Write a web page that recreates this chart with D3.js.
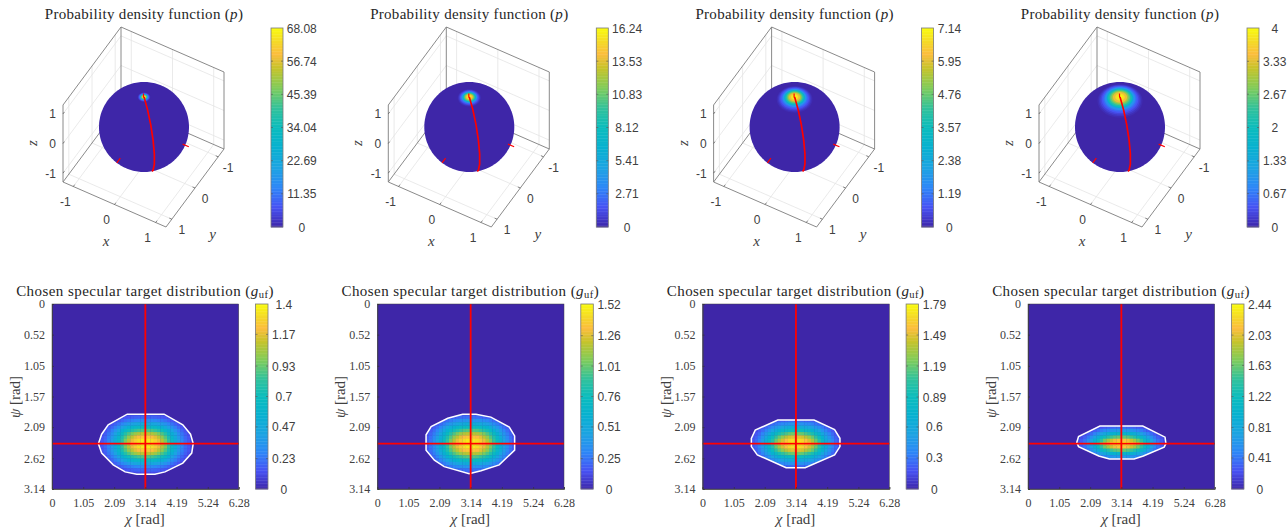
<!DOCTYPE html>
<html>
<head>
<meta charset="utf-8">
<script src="https://cdn.jsdelivr.net/npm/d3@7"></script>
<style>
  body { margin: 0; background: #fff; }
  svg { display: block; }
  text { fill: #404040; }
  .serif { font-family: "Liberation Serif", serif; font-size: 12px; }
  .sans { font-family: "Liberation Sans", sans-serif; font-size: 12px; }
  .title { font-family: "Liberation Serif", serif; font-size: 15px; fill: #262626; }
  .label { font-family: "Liberation Serif", serif; font-size: 15px; }
</style>
</head>
<body>
<svg width="1288" height="530"></svg>
<script>
// --- Data ---
const pTicks = [
  [0, 11.35, 22.69, 34.04, 45.39, 56.74, 68.08],
  [0, 2.71, 5.41, 8.12, 10.83, 13.53, 16.24],
  [0, 1.19, 2.38, 3.57, 4.76, 5.95, 7.14],
  [0, 0.67, 1.33, 2, 2.67, 3.33, 4]
];
const gTicks = [
  [0, 0.23, 0.47, 0.7, 0.93, 1.17, 1.4],
  [0, 0.25, 0.51, 0.76, 1.01, 1.26, 1.52],
  [0, 0.3, 0.6, 0.89, 1.19, 1.49, 1.79],
  [0, 0.41, 0.81, 1.22, 1.63, 2.03, 2.44]
];
const chiTicks = [0, 1.05, 2.09, 3.14, 4.19, 5.24, 6.28];
const psiTicks = [0, 0.52, 1.05, 1.57, 2.09, 2.62, 3.14];
const boxTicks = [-1, 0, 1];

// density on the sphere: rings around the pole, outer to inner (angle in degrees)
const ringAngles = [
  [8.1, 7.6, 7, 6.5, 5.9, 5.4, 4.6, 4.1, 3.5, 3, 2.4, 1.6, 0.8],
  [15, 14, 13, 12, 11, 10, 8.5, 7.5, 6.5, 5.5, 4.5, 3, 1.5],
  [23.4, 21.8, 20.3, 18.7, 17.2, 15.6, 13.3, 11.7, 10.1, 8.6, 7, 4.7, 2.3],
  [30, 28, 26, 24, 22, 20, 17, 15, 13, 11, 9, 6, 3]
];
const ringValues = [
  [1, 2.6, 4.8, 7.1, 10.2, 16, 29, 37, 44, 51, 58, 65, 68],
  [0.24, 0.6, 1.1, 1.7, 2.4, 3.9, 6.9, 8.9, 10.6, 12.2, 13.8, 15.4, 16.24],
  [0.11, 0.27, 0.5, 0.75, 1.07, 1.7, 3, 3.9, 4.6, 5.35, 6.05, 6.8, 7.14],
  [0.06, 0.15, 0.28, 0.42, 0.6, 0.95, 1.7, 2.2, 2.6, 3, 3.4, 3.8, 4]
];

// red meridian and the short axis tips poking out of the sphere
const meridianLon = 13.5;
const meridianLat = [90, 70, 50, 30, 10, -10, -30, -45];
const axisTips = [
  [[0.95, 0, 0], [1.1, 0, 0]],
  [[0, 1, 0], [0, 1.15, 0]],
  [[0, 0, 1], [0, 0, 1.13]]
];

// target distribution: share of the peak per grid cell going out from the centre
const chiProfile = [
  [1, 0.99, 0.97, 0.93, 0.87, 0.8, 0.71, 0.6, 0.48, 0.38, 0.29, 0.21, 0.15, 0.11, 0.08],
  [1, 0.99, 0.97, 0.93, 0.87, 0.8, 0.71, 0.61, 0.5, 0.4, 0.31, 0.23, 0.17, 0.12, 0.09],
  [1, 0.99, 0.97, 0.92, 0.86, 0.79, 0.7, 0.59, 0.48, 0.38, 0.29, 0.21, 0.15, 0.11, 0.08],
  [1, 0.99, 0.96, 0.91, 0.84, 0.76, 0.66, 0.55, 0.44, 0.34, 0.25, 0.18, 0.13, 0.09, 0.07]
];
const psiProfile = [
  [1, 0.97, 0.9, 0.79, 0.64, 0.48, 0.34, 0.22, 0.14, 0.09],
  [1, 0.97, 0.9, 0.79, 0.65, 0.5, 0.36, 0.25, 0.16, 0.1],
  [1, 0.95, 0.84, 0.68, 0.51, 0.36, 0.24, 0.15, 0.1],
  [1, 0.89, 0.67, 0.44, 0.27, 0.15, 0.09]
];
// white contour, [chi, psi]
const contours = [
  [[2.53,1.87],[3.77,1.87],[4.40,2.05],[4.66,2.21],[4.75,2.37],[4.70,2.53],[4.40,2.70],[3.80,2.85],[3.46,2.89],[2.85,2.89],[2.46,2.85],[2.06,2.73],[1.67,2.53],[1.56,2.37],[1.67,2.21],[1.89,2.05]],
  [[2.87,1.87],[3.32,1.87],[3.82,1.92],[4.44,2.09],[4.62,2.24],[4.62,2.48],[4.10,2.73],[3.49,2.83],[3.09,2.88],[2.25,2.76],[1.92,2.65],[1.64,2.48],[1.64,2.22],[1.81,2.08],[2.37,1.94]],
  [[2.53,1.97],[3.75,1.97],[4.44,2.13],[4.62,2.28],[4.62,2.42],[4.44,2.56],[3.45,2.78],[2.81,2.78],[1.84,2.56],[1.64,2.42],[1.64,2.28],[1.77,2.14]],
  [[2.42,2.07],[3.86,2.07],[4.61,2.26],[4.64,2.37],[4.58,2.43],[3.88,2.58],[3.57,2.63],[2.74,2.63],[2.38,2.58],[1.70,2.42],[1.64,2.35],[1.70,2.25]]
];
const chiCentre = 3.14;
const psiCentre = 2.37;

// parula
const parulaStops = [0, 0.1, 0.2, 0.3, 0.4, 0.5, 0.6, 0.7, 0.8, 0.87, 0.93, 1];
const parulaColors = ["#3e26a8", "#4752f4", "#2d87f7", "#1ca4e2", "#07b1d0", "#0bbcbd", "#33c29a", "#81cc59", "#c7c32a", "#fcbd3d", "#f5d827", "#f9fb0e"];

// --- Layout constants ---
const COLS = 56;
const panelX = [0, 325.3, 650.6, 976];
const BOX = { left: 63, back: 122, right: 224, front: 166, top: 28 };
const HEAT = { left: 52, right: 238.7, top: 304, bottom: 489 };

const svg = d3.select("svg");

function parula(maxValue) {
  return d3.scaleLinear()
    .domain(parulaStops.map(s => s * maxValue))
    .range(parulaColors)
    .clamp(true);
}

// --- Colour bar ---
function colorbar(g, x0, x1, y0, y1, ticks) {
  const maxValue = ticks[ticks.length - 1];
  const color = parula(maxValue);
  const y = d3.scaleLinear().domain([0, maxValue]).range([y1, y0]);
  const levels = d3.range(128);
  const h = (y1 - y0) / levels.length;
  g.selectAll(null).data(levels).join("rect")
    .attr("x", x0).attr("width", x1 - x0)
    .attr("y", d => y((d + 1) / levels.length * maxValue))
    .attr("height", h + 0.4)
    .attr("fill", d => color((d + 0.5) / levels.length * maxValue));
  g.append("rect")
    .attr("x", x0).attr("y", y0).attr("width", x1 - x0).attr("height", y1 - y0)
    .attr("fill", "none").attr("stroke", "#7a7a7a").attr("stroke-width", 0.8);
  g.selectAll(null).data(ticks.slice(1, -1)).join("path")
    .attr("d", d => `M${x0},${y(d)}h2M${x1},${y(d)}h-2`)
    .attr("stroke", "#555").attr("stroke-width", 0.6);
  // labels are centred in a block as wide as the longest one
  const longest = d3.max(ticks, t => String(t).length);
  g.selectAll(null).data(ticks).join("text")
    .attr("class", "sans")
    .attr("x", x1 + 4 + longest * 5.9 / 2)
    .attr("y", d => y(d) + 4.5)
    .attr("text-anchor", "middle")
    .text(d => d);
}

// --- Top row: sphere in a 3D box ---
function drawSphere(i) {
  const g = svg.append("g").attr("transform", `translate(${panelX[i]},0)`);

  const L = 1.25, LZ = 1.3;
  const xx = d3.scaleLinear().domain([-L, L]).range([0, BOX.front - BOX.left]);
  const xy = d3.scaleLinear().domain([-L, L]).range([0, 45]);
  const yx = d3.scaleLinear().domain([-L, L]).range([BOX.right - BOX.front, 0]);
  const yy = d3.scaleLinear().domain([-L, L]).range([0, 78]);
  const zy = d3.scaleLinear().domain([-LZ, LZ]).range([0, -77]);
  const project = ([x, y, z]) => [
    BOX.left + xx(x) + yx(y),
    104 + xy(x) + yy(y) + zy(z)
  ];
  const line3 = d3.line().x(d => project(d)[0]).y(d => project(d)[1]);

  // grid on floor and back walls
  const grid = [];
  boxTicks.forEach(t => {
    grid.push([[t, -L, -LZ], [t, L, -LZ]], [[-L, t, -LZ], [L, t, -LZ]]);
    grid.push([[-L, t, -LZ], [-L, t, LZ]], [[t, -L, -LZ], [t, -L, LZ]]);
    grid.push([[-L, -L, t], [-L, L, t]], [[-L, -L, t], [L, -L, t]]);
  });
  g.selectAll(null).data(grid).join("path")
    .attr("d", line3).attr("fill", "none")
    .attr("stroke", "#e4e4e4").attr("stroke-width", 0.8);

  // box edges
  const edges = [
    [[-L, L, -LZ], [L, L, -LZ]], [[L, L, -LZ], [L, -L, -LZ]],
    [[-L, L, -LZ], [-L, -L, -LZ]], [[-L, -L, -LZ], [L, -L, -LZ]],
    [[-L, L, -LZ], [-L, L, LZ]], [[-L, L, LZ], [-L, -L, LZ]],
    [[-L, -L, LZ], [L, -L, LZ]], [[L, -L, LZ], [L, -L, -LZ]],
    [[-L, -L, -LZ], [-L, -L, LZ]]
  ];
  g.selectAll(null).data(edges).join("path")
    .attr("d", line3).attr("fill", "none")
    .attr("stroke", "#7d7d7d").attr("stroke-width", 0.9);

  // ticks
  const ticks = [];
  boxTicks.forEach(t => {
    ticks.push([[t, L, -LZ], [t, L - 0.06, -LZ]]);
    ticks.push([[L, t, -LZ], [L - 0.06, t, -LZ]]);
    ticks.push([[-L, L, t], [-L, L - 0.06, t]]);
  });
  g.selectAll(null).data(ticks).join("path")
    .attr("d", line3).attr("stroke", "#555").attr("stroke-width", 0.7);

  const tickLabel = (t, p, dx, dy, anchor) => g.append("text")
    .attr("class", "sans")
    .attr("x", project(p)[0] + dx).attr("y", project(p)[1] + dy)
    .attr("text-anchor", anchor).text(t);
  boxTicks.forEach(t => {
    tickLabel(t, [t, L, -LZ], -8, 19, "middle");
    tickLabel(t, [L, t, -LZ], 10, 15, "middle");
    tickLabel(t, [-L, L, t], -7, 4.5, "end");
  });

  g.append("text").attr("class", "label").attr("x", 106).attr("y", 246)
    .attr("text-anchor", "middle").attr("font-style", "italic").text("x");
  g.append("text").attr("class", "label").attr("x", 212.5).attr("y", 239)
    .attr("text-anchor", "middle").attr("font-style", "italic").text("y");
  g.append("text").attr("class", "label").attr("font-style", "italic")
    .attr("text-anchor", "middle")
    .attr("transform", "translate(37,143) rotate(-90)").text("z");

  // sphere
  const maxValue = pTicks[i][pTicks[i].length - 1];
  const color = parula(maxValue);
  const projection = d3.geoOrthographic()
    .rotate([0, -48, 0]).scale(45).translate([144, 127]).clipAngle(90);
  const path = d3.geoPath(projection);
  g.append("path").datum({ type: "Sphere" }).attr("d", path).attr("fill", color(0));
  const circle = d3.geoCircle().center([0, 90]).precision(3);
  g.selectAll(null).data(ringAngles[i]).join("path")
    .attr("d", d => path(circle.radius(d)()))
    .attr("fill", (d, k) => color(ringValues[i][k]));

  g.append("path")
    .datum({ type: "LineString", coordinates: meridianLat.map(lat => [meridianLon, lat]) })
    .attr("d", path).attr("fill", "none").attr("stroke", "#f00").attr("stroke-width", 1.7);
  g.selectAll(null).data(axisTips).join("path")
    .attr("d", line3).attr("fill", "none").attr("stroke", "#f00").attr("stroke-width", 1.2);

  const title = g.append("text").attr("class", "title").attr("x", 144).attr("y", 19)
    .attr("text-anchor", "middle").attr("letter-spacing", 0.3);
  title.append("tspan").text("Probability density function (");
  title.append("tspan").attr("font-style", "italic").text("p");
  title.append("tspan").text(")");

  colorbar(g, 271, 283, 28, 227, pTicks[i]);
}

// --- Bottom row: target distribution heat map ---
function drawHeat(i) {
  const g = svg.append("g").attr("transform", `translate(${panelX[i]},0)`);
  const x = d3.scaleLinear().domain([0, 6.28]).range([HEAT.left, HEAT.right]);
  const y = d3.scaleLinear().domain([0, 3.14]).range([HEAT.top, HEAT.bottom]);
  const maxValue = gTicks[i][gTicks[i].length - 1];
  const color = parula(maxValue);

  g.append("rect")
    .attr("x", HEAT.left).attr("y", HEAT.top)
    .attr("width", HEAT.right - HEAT.left).attr("height", HEAT.bottom - HEAT.top)
    .attr("fill", color(0));

  const clipId = `contour-${i}`;
  const contourLine = d3.line().x(d => x(d[0])).y(d => y(d[1])).curve(d3.curveLinearClosed);
  g.append("clipPath").attr("id", clipId).append("path").attr("d", contourLine(contours[i]));

  // one cell per grid step, only inside the contour
  const chiStep = 6.28 / COLS, psiStep = 3.14 / COLS;
  const cells = [];
  const chiP = chiProfile[i], psiP = psiProfile[i];
  for (let a = 1 - chiP.length; a < chiP.length; a++) {
    for (let b = 1 - psiP.length; b < psiP.length; b++) {
      cells.push({
        chi: chiCentre + a * chiStep,
        psi: psiCentre + b * psiStep,
        value: maxValue * chiP[Math.abs(a)] * psiP[Math.abs(b)]
      });
    }
  }
  g.append("g").attr("clip-path", `url(#${clipId})`)
    .selectAll("rect").data(cells).join("rect")
    .attr("x", d => x(d.chi - chiStep / 2))
    .attr("y", d => y(d.psi - psiStep / 2))
    .attr("width", x(chiStep) - x(0) + 0.3)
    .attr("height", y(psiStep) - y(0) + 0.3)
    .attr("fill", d => color(d.value));

  g.append("path").attr("d", contourLine(contours[i]))
    .attr("fill", "none").attr("stroke", "#fff").attr("stroke-width", 1.5);

  g.append("path")
    .attr("d", `M${x(chiCentre)},${HEAT.top}V${HEAT.bottom}M${HEAT.left},${y(psiCentre)}H${HEAT.right}`)
    .attr("stroke", "#f00").attr("stroke-width", 1.8).attr("fill", "none");

  // axes
  const xAxis = d3.axisBottom(x).tickValues(chiTicks).tickSize(-2).tickPadding(9).tickFormat(d => d);
  const yAxis = d3.axisLeft(y).tickValues(psiTicks).tickSize(-2).tickPadding(7).tickFormat(d => d);
  const ax = g.append("g").attr("transform", `translate(0,${HEAT.bottom})`).call(xAxis);
  const ay = g.append("g").attr("transform", `translate(${HEAT.left},0)`).call(yAxis);
  [ax, ay].forEach(a => {
    a.selectAll("text").attr("class", "serif").attr("fill", "#404040");
    a.selectAll("line").attr("stroke", "#333").attr("stroke-width", 0.7);
    a.select(".domain").attr("stroke", "#404040").attr("stroke-width", 0.8);
  });
  g.append("rect")
    .attr("x", HEAT.left).attr("y", HEAT.top)
    .attr("width", HEAT.right - HEAT.left).attr("height", HEAT.bottom - HEAT.top)
    .attr("fill", "none").attr("stroke", "#404040").attr("stroke-width", 0.5);

  const xl = g.append("text").attr("class", "label").attr("x", 145).attr("y", 524)
    .attr("text-anchor", "middle");
  xl.append("tspan").attr("font-style", "italic").text("χ");
  xl.append("tspan").text(" [rad]");
  const yl = g.append("text").attr("class", "label").attr("text-anchor", "middle")
    .attr("transform", "translate(20,397) rotate(-90)");
  yl.append("tspan").attr("font-style", "italic").text("ψ");
  yl.append("tspan").text(" [rad]");

  const title = g.append("text").attr("class", "title").attr("x", 145).attr("y", 296)
    .attr("text-anchor", "middle").attr("letter-spacing", 0.45);
  title.append("tspan").text("Chosen specular target distribution (");
  title.append("tspan").attr("font-style", "italic").text("g");
  title.append("tspan").attr("font-size", 10.5).attr("dy", 2).text("uf");
  title.append("tspan").attr("dy", -2).text(")");

  colorbar(g, 255.5, 268, HEAT.top, HEAT.bottom, gTicks[i]);
}

d3.range(4).forEach(i => {
  drawSphere(i);
  drawHeat(i);
});
</script>
</body>
</html>
